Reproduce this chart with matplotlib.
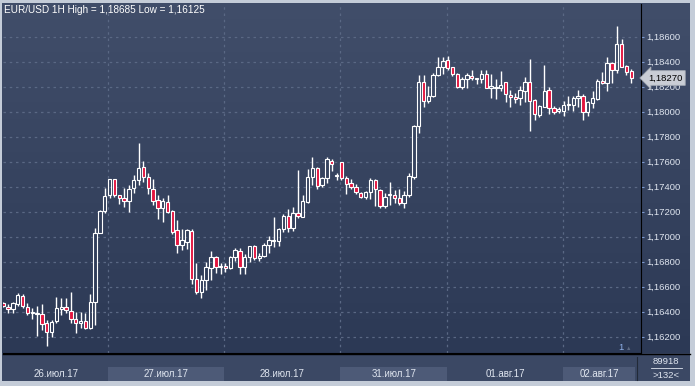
# EUR/USD 1H - свечной график (тёмная тема терминала)
import numpy as np
import matplotlib.pyplot as plt
from matplotlib.transforms import blended_transform_factory
from matplotlib.lines import Line2D

plt.rcParams['font.family'] = ['Liberation Sans', 'DejaVu Sans']

W, H = 695, 386

# OHLC по часам
opens = [1.16467, 1.16440, 1.16419, 1.16459, 1.16525, 1.16440, 1.16387, 1.16379, 1.16379, 1.16307,
         1.16240, 1.16328, 1.16424, 1.16435, 1.16408, 1.16339, 1.16307, 1.16325, 1.16267, 1.16475,
         1.17032, 1.17208, 1.17334, 1.17459, 1.17331, 1.17307, 1.17288, 1.17387, 1.17454, 1.17555,
         1.17475, 1.17379, 1.17291, 1.17227, 1.17280, 1.17208, 1.17054, 1.16934, 1.16960, 1.17046,
         1.16659, 1.16555, 1.16654, 1.16752, 1.16835, 1.16755, 1.16765, 1.16747, 1.16835, 1.16888,
         1.16755, 1.16835, 1.16926, 1.16827, 1.16848, 1.16934, 1.16966, 1.16966, 1.17059, 1.17166,
         1.17067, 1.17187, 1.17160, 1.17275, 1.17475, 1.17547, 1.17414, 1.17467, 1.17608, 1.17485,
         1.17595, 1.17467, 1.17427, 1.17395, 1.17347, 1.17315, 1.17355, 1.17454, 1.17373, 1.17245,
         1.17331, 1.17333, 1.17307, 1.17267, 1.17333, 1.17475, 1.17886, 1.18235, 1.18088, 1.18126,
         1.18291, 1.18355, 1.18414, 1.18355, 1.18302, 1.18195, 1.18259, 1.18288, 1.18259, 1.18259,
         1.18302, 1.18192, 1.18187, 1.18187, 1.18235, 1.18134, 1.18115, 1.18107, 1.18168, 1.18238,
         1.18094, 1.17974, 1.18040, 1.18171, 1.18027, 1.18006, 1.18008, 1.18051, 1.18054, 1.18107,
         1.18126, 1.18000, 1.18072, 1.18102, 1.18246, 1.18227, 1.18387, 1.18334, 1.18542, 1.18366,
         1.18326]
highs = [1.16477, 1.16461, 1.16477, 1.16547, 1.16541, 1.16467, 1.16427, 1.16445, 1.16461, 1.16333,
         1.16333, 1.16515, 1.16507, 1.16507, 1.16555, 1.16400, 1.16400, 1.16387, 1.16539, 1.17067,
         1.17214, 1.17387, 1.17459, 1.17459, 1.17334, 1.17387, 1.17414, 1.17494, 1.17747, 1.17606,
         1.17507, 1.17462, 1.17334, 1.17307, 1.17334, 1.17214, 1.17134, 1.17062, 1.17059, 1.17062,
         1.16787, 1.16693, 1.16800, 1.16886, 1.16846, 1.16792, 1.16792, 1.16846, 1.16912, 1.16907,
         1.16862, 1.16928, 1.16934, 1.16872, 1.16952, 1.17006, 1.17155, 1.17067, 1.17182, 1.17219,
         1.17235, 1.17534, 1.17334, 1.17542, 1.17635, 1.17560, 1.17480, 1.17635, 1.17621, 1.17512,
         1.17600, 1.17485, 1.17459, 1.17421, 1.17360, 1.17368, 1.17472, 1.17461, 1.17379, 1.17347,
         1.17435, 1.17373, 1.17381, 1.17368, 1.17512, 1.17894, 1.18294, 1.18294, 1.18206, 1.18307,
         1.18440, 1.18440, 1.18448, 1.18360, 1.18312, 1.18275, 1.18307, 1.18334, 1.18272, 1.18334,
         1.18334, 1.18302, 1.18259, 1.18326, 1.18240, 1.18174, 1.18147, 1.18206, 1.18275, 1.18419,
         1.18099, 1.18054, 1.18374, 1.18200, 1.18046, 1.18035, 1.18086, 1.18126, 1.18126, 1.18174,
         1.18142, 1.18086, 1.18166, 1.18259, 1.18320, 1.18440, 1.18400, 1.18685, 1.18582, 1.18374,
         1.18339]
lows = [1.16440, 1.16387, 1.16392, 1.16448, 1.16427, 1.16373, 1.16339, 1.16205, 1.16253, 1.16125,
        1.16195, 1.16307, 1.16373, 1.16392, 1.16307, 1.16227, 1.16267, 1.16259, 1.16261, 1.16293,
        1.17027, 1.17192, 1.17307, 1.17320, 1.17262, 1.17240, 1.17200, 1.17352, 1.17414, 1.17440,
        1.17339, 1.17254, 1.17139, 1.17120, 1.17187, 1.17021, 1.16872, 1.16894, 1.16899, 1.16622,
        1.16541, 1.16507, 1.16573, 1.16654, 1.16712, 1.16701, 1.16720, 1.16739, 1.16806, 1.16701,
        1.16701, 1.16800, 1.16814, 1.16806, 1.16840, 1.16867, 1.16915, 1.16926, 1.17040, 1.17040,
        1.17048, 1.17147, 1.17155, 1.17272, 1.17414, 1.17379, 1.17400, 1.17432, 1.17525, 1.17454,
        1.17454, 1.17341, 1.17379, 1.17341, 1.17307, 1.17304, 1.17299, 1.17245, 1.17227, 1.17227,
        1.17253, 1.17272, 1.17253, 1.17227, 1.17320, 1.17459, 1.17827, 1.18040, 1.18067, 1.18115,
        1.18286, 1.18299, 1.18334, 1.18286, 1.18192, 1.18182, 1.18187, 1.18254, 1.18219, 1.18227,
        1.18187, 1.18107, 1.18101, 1.18168, 1.18080, 1.18035, 1.18072, 1.18054, 1.18080, 1.17848,
        1.17934, 1.17960, 1.18035, 1.17982, 1.17982, 1.17987, 1.17968, 1.18014, 1.18008, 1.18040,
        1.17934, 1.17966, 1.18027, 1.18094, 1.18219, 1.18168, 1.18232, 1.18307, 1.18355, 1.18294,
        1.18232]
closes = [1.16448, 1.16421, 1.16467, 1.16533, 1.16445, 1.16387, 1.16400, 1.16392, 1.16299, 1.16235,
          1.16320, 1.16427, 1.16435, 1.16413, 1.16339, 1.16307, 1.16325, 1.16267, 1.16475, 1.17027,
          1.17206, 1.17328, 1.17459, 1.17334, 1.17307, 1.17286, 1.17384, 1.17454, 1.17547, 1.17475,
          1.17387, 1.17286, 1.17227, 1.17288, 1.17200, 1.17040, 1.16934, 1.16974, 1.17054, 1.16659,
          1.16555, 1.16654, 1.16760, 1.16835, 1.16755, 1.16765, 1.16747, 1.16835, 1.16894, 1.16755,
          1.16835, 1.16926, 1.16827, 1.16846, 1.16934, 1.16974, 1.16974, 1.17062, 1.17166, 1.17067,
          1.17187, 1.17166, 1.17286, 1.17475, 1.17547, 1.17406, 1.17467, 1.17621, 1.17582, 1.17493,
          1.17472, 1.17419, 1.17395, 1.17355, 1.17315, 1.17355, 1.17454, 1.17379, 1.17245, 1.17315,
          1.17341, 1.17307, 1.17267, 1.17333, 1.17485, 1.17886, 1.18235, 1.18088, 1.18126, 1.18294,
          1.18355, 1.18406, 1.18352, 1.18302, 1.18200, 1.18259, 1.18294, 1.18267, 1.18267, 1.18299,
          1.18192, 1.18203, 1.18195, 1.18214, 1.18139, 1.18115, 1.18099, 1.18174, 1.18238, 1.18088,
          1.17979, 1.18046, 1.18166, 1.18027, 1.17995, 1.18019, 1.18054, 1.18062, 1.18107, 1.18126,
          1.18000, 1.18080, 1.18107, 1.18246, 1.18227, 1.18387, 1.18334, 1.18542, 1.18360, 1.18315,
          1.18270]

day_labels = ['26.июл.17', '27.июл.17', '28.июл.17', '31.июл.17', '01.авг.17', '02.авг.17']
day_bounds = [21.75, 45.75, 69.8, 91.9, 115.9]   # начало каждого дня (по индексу свечи)
price_ticks = [1.162, 1.164, 1.166, 1.168, 1.170, 1.172, 1.174, 1.176, 1.178, 1.180, 1.182, 1.184, 1.186]
last_price = 1.18270
high_val, low_val = 1.18685, 1.16125
volume_txt, bars_txt = '89918', '>132<'

RED = '#e3153f'
GRID = '#5a6884'
TXT = '#dfe5ef'


def px_box(x0, y0, x1, y1):
  # пиксели картинки -> координаты фигуры
  return [x0 / W, 1 - y1 / H, (x1 - x0) / W, (y1 - y0) / H]


def fmt(v):
  return ('%.5f' % v).replace('.', ',')


def main():
  fig = plt.figure(figsize=(W / 100, H / 100), dpi=100)
  fig.patch.set_facecolor('#c4ccd8')

  # фон: градиент для графика и полоса под ним
  bg = fig.add_axes(px_box(2, 3, 690, 381))
  rows = 378
  img = np.zeros((rows, 1, 3))
  top = np.array([65, 78, 106]) / 255
  bottom = np.array([44, 57, 85]) / 255
  band = np.array([59, 72, 100]) / 255
  n_chart = 350
  for r in range(rows):
    if r < n_chart:
      t = r / (n_chart - 1)
      img[r, 0] = top * (1 - t) + bottom * t
    else:
      img[r, 0] = band
  bg.imshow(img, aspect='auto', extent=[0, 1, 1, 0], interpolation='nearest')
  bg.set_axis_off()

  ax = fig.add_axes(px_box(3, 4, 641, 353))
  ax.set_facecolor('none')

  o = np.array(opens)
  h = np.array(highs)
  l = np.array(lows)
  c = np.array(closes)
  x = np.arange(len(o))
  up = c >= o
  body_top = np.maximum(o, c)
  body_bot = np.minimum(o, c)

  # сетка
  for b in day_bounds:
    ax.axvline(b, color=GRID, lw=0.9, ls=(0, (2, 3)), zorder=1)
  for p in price_ticks:
    ax.axhline(p, color=GRID, lw=0.9, ls=(0, (2, 3)), zorder=1)

  # свечи: тени отдельно, чтобы не проходили через пустое тело
  ax.vlines(x, body_top, h, color='white', lw=1, zorder=2)
  ax.vlines(x, l, body_bot, color='white', lw=1, zorder=2)
  faces = [('none' if u else RED) for u in up]
  ax.bar(x, body_top - body_bot, bottom=body_bot, width=0.7, color=faces,
         edgecolor='white', linewidth=0.8, zorder=3)

  ax.set_xlim(-0.06, 132.03)
  ax.set_ylim(1.16070, 1.18862)

  ax.set_xticks([])
  ax.yaxis.tick_right()
  ax.set_yticks(price_ticks)
  ax.set_yticklabels([fmt(p) for p in price_ticks])
  ax.tick_params(axis='y', length=2, width=0.8, color='#7c9ad0', labelcolor=TXT,
                 labelsize=6.8, pad=1.5)
  for s in ['top', 'left']:
    ax.spines[s].set_visible(False)
  ax.spines['right'].set_color('black')
  ax.spines['bottom'].set_color('black')

  # текущая цена
  tr = blended_transform_factory(ax.transAxes, ax.transData)
  ax.text(1.011, last_price, fmt(last_price), transform=tr, fontsize=6.8, color='black',
          va='center', ha='left', clip_on=False, zorder=10,
          bbox=dict(boxstyle='larrow,pad=0.3', fc='#c9cdd5', ec='#a4aab4', lw=0.6))

  # полоса дат
  bax = fig.add_axes(px_box(3, 353, 641, 381))
  bax.set_facecolor('none')
  bax.set_xlim(ax.get_xlim())
  bax.set_ylim(0, 1)
  bax.set_axis_off()
  edges = [ax.get_xlim()[0]] + day_bounds + [ax.get_xlim()[1]]
  for k, lab in enumerate(day_labels):
    a, b = edges[k], edges[k + 1]
    if k % 2 == 1:
      bax.axvspan(a, min(b, 130.8), ymin=0, ymax=0.49, color='#4d5a77', lw=0)
    bax.text((a + b) / 2 - (0.6 if k == 5 else 0), 0.25, lab, ha='center', va='center',
             fontsize=7, color=TXT)

  # линия под графиком тянется до правого края
  fig.add_artist(Line2D([3 / W, 690 / W], [1 - 353.5 / H] * 2, color='black', lw=1))
  fig.add_artist(Line2D([637 / W, 637 / W], [1 - 357 / H, 1 - 380 / H], color='#222a38', lw=0.8))

  # справа внизу
  fig.text(666 / W, 1 - 361 / H, volume_txt, ha='center', va='center', fontsize=6.8, color=TXT)
  fig.add_artist(Line2D([651 / W, 682 / W], [1 - 368 / H] * 2, color=TXT, lw=0.6))
  fig.text(666 / W, 1 - 375 / H, bars_txt, ha='center', va='center', fontsize=6.8, color=TXT)

  fig.text(621 / W, 1 - 348 / H, '1', ha='center', va='center', fontsize=6.8, color='#8fb0e8')
  fig.text(629 / W, 1 - 349 / H, '▲', ha='center', va='center', fontsize=4, color='#5e6a82')

  fig.text(4 / W, 1 - 10 / H, 'EUR/USD 1H High = %s Low = %s' % (fmt(high_val), fmt(low_val)),
           color='white', fontsize=7.2, va='center', ha='left')

  fig.savefig('out.png', dpi=100, facecolor=fig.get_facecolor())


if __name__ == "__main__":
  main()
